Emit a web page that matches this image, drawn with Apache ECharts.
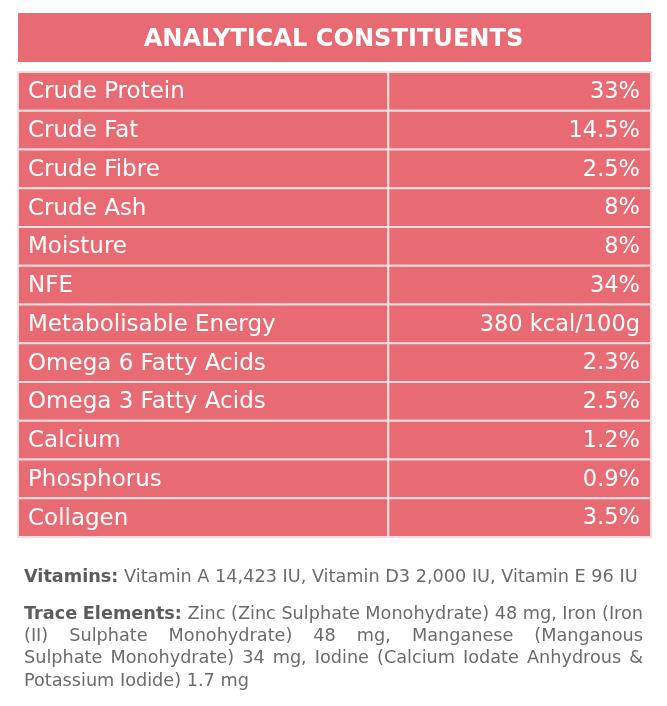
<!DOCTYPE html>
<html>
<head>
<meta charset="utf-8">
<script src="https://cdn.jsdelivr.net/npm/echarts@6/dist/echarts.min.js"></script>
<style>
  html, body { margin: 0; padding: 0; background: #fff; }
  #table { width: 667px; height: 706px; }
</style>
</head>
<body>
<div id="table"></div>
<script>
var titleText = 'ANALYTICAL CONSTITUENTS';
var constituents = ['Crude Protein', 'Crude Fat', 'Crude Fibre', 'Crude Ash', 'Moisture', 'NFE',
  'Metabolisable Energy', 'Omega 6 Fatty Acids', 'Omega 3 Fatty Acids', 'Calcium', 'Phosphorus', 'Collagen'];
var amounts = ['33%', '14.5%', '2.5%', '8%', '8%', '34%', '380 kcal/100g', '2.3%', '2.5%', '1.2%', '0.9%', '3.5%'];
var vitaminsLabel = 'Vitamins:';
var vitaminsText = 'Vitamin A 14,423 IU, Vitamin D3 2,000 IU, Vitamin E 96 IU';
var traceLabel = 'Trace Elements:';
var traceLines = [
  'Zinc (Zinc Sulphate Monohydrate) 48 mg, Iron (Iron',
  '(II) Sulphate Monohydrate) 48 mg, Manganese (Manganous',
  'Sulphate Monohydrate) 34 mg, Iodine (Calcium Iodate Anhydrous &',
  'Potassium Iodide) 1.7 mg'
];

var pink = '#e86a72';
var grey = '#6b6b6b';
var font = '"DejaVu Sans", sans-serif';
var split = 58.5; // column divider, % of table width

var ctx = document.createElement('canvas').getContext('2d');
function measure(t, bold, size) {
  ctx.font = (bold ? 'bold ' : '') + size + 'px ' + font;
  return ctx.measureText(t).width;
}
var labelSize = 23;
var valueSize = 22.5;
var titleSize = 24 * 380 / measure(titleText, true, 24);
var noteSize = 15 * 614 / (measure(vitaminsLabel, true, 15) + measure(' ' + vitaminsText, false, 15));

// two cells per row: [xStart, xEnd, rowIndex]
var cells = [];
constituents.forEach(function (name, i) {
  cells.push([0, split, i]);
  cells.push([split, 100, i]);
});

function paraLine(words, boldCount, y, justify) {
  var left = 24, right = 643;
  var widths = words.map(function (w, k) { return measure(w, k < boldCount, noteSize); });
  var total = widths.reduce(function (a, b) { return a + b; }, 0);
  var gap = justify ? (right - left - total) / (words.length - 1) : measure(' ', false, noteSize);
  var x = left, out = [];
  words.forEach(function (w, k) {
    out.push({
      type: 'text', x: x, y: y,
      style: {
        text: w, fill: k < boldCount ? '#5c5c5c' : grey,
        font: (k < boldCount ? 'bold ' : '') + noteSize + 'px ' + font,
        verticalAlign: 'middle'
      }
    });
    x += widths[k] + gap;
  });
  return out;
}

var graphics = [{
  type: 'rect', shape: { x: 18, y: 13, width: 633, height: 49 },
  style: { fill: pink }, z: 0
}, {
  type: 'text', x: 24, y: 577,
  style: {
    text: '{b|' + vitaminsLabel + '} ' + vitaminsText,
    rich: { b: { fontWeight: 'bold', fill: '#5c5c5c', fontSize: noteSize, fontFamily: font } },
    fill: grey, fontSize: noteSize, fontFamily: font, verticalAlign: 'middle'
  }
}];
var lineYs = [614, 636, 658, 681];
traceLines.forEach(function (line, i) {
  var words = (i === 0 ? traceLabel + ' ' + line : line).split(' ');
  graphics = graphics.concat(paraLine(words, i === 0 ? 2 : 0, lineYs[i], i < traceLines.length - 1));
});

var option = {
  animation: false,
  title: {
    text: titleText, left: 'center', top: 23,
    textStyle: { color: '#fff', fontSize: titleSize, fontWeight: 'bold', fontFamily: font }
  },
  grid: { left: 18, right: 16, top: 72, bottom: 169 },
  xAxis: { type: 'value', min: 0, max: 100, show: false },
  yAxis: { type: 'category', data: constituents, inverse: true, show: false },
  graphic: graphics,
  series: [{
    type: 'custom',
    data: cells,
    renderItem: function (params, api) {
      var row = api.value(2);
      var p0 = api.coord([api.value(0), row]);
      var p1 = api.coord([api.value(1), row]);
      var h = api.size([0, 1])[1];
      var isLabel = params.dataIndex % 2 === 0;
      var txt = isLabel ? constituents[row] : amounts[row];
      return {
        type: 'group',
        children: [{
          type: 'rect',
          shape: { x: p0[0], y: p0[1] - h / 2, width: p1[0] - p0[0], height: h },
          style: { fill: pink, stroke: '#f6dcdc', lineWidth: 2 }
        }, {
          type: 'text',
          x: isLabel ? p0[0] + 10 : p1[0] - 11,
          y: p0[1] + 1,
          style: {
            text: txt, fill: '#fff', font: (isLabel ? labelSize : valueSize) + 'px ' + font,
            align: isLabel ? 'left' : 'right', verticalAlign: 'middle'
          }
        }]
      };
    }
  }]
};

var chart = echarts.init(document.getElementById('table'));
chart.setOption(option);
window.addEventListener('resize', function () { chart.resize(); });
</script>
</body>
</html>
